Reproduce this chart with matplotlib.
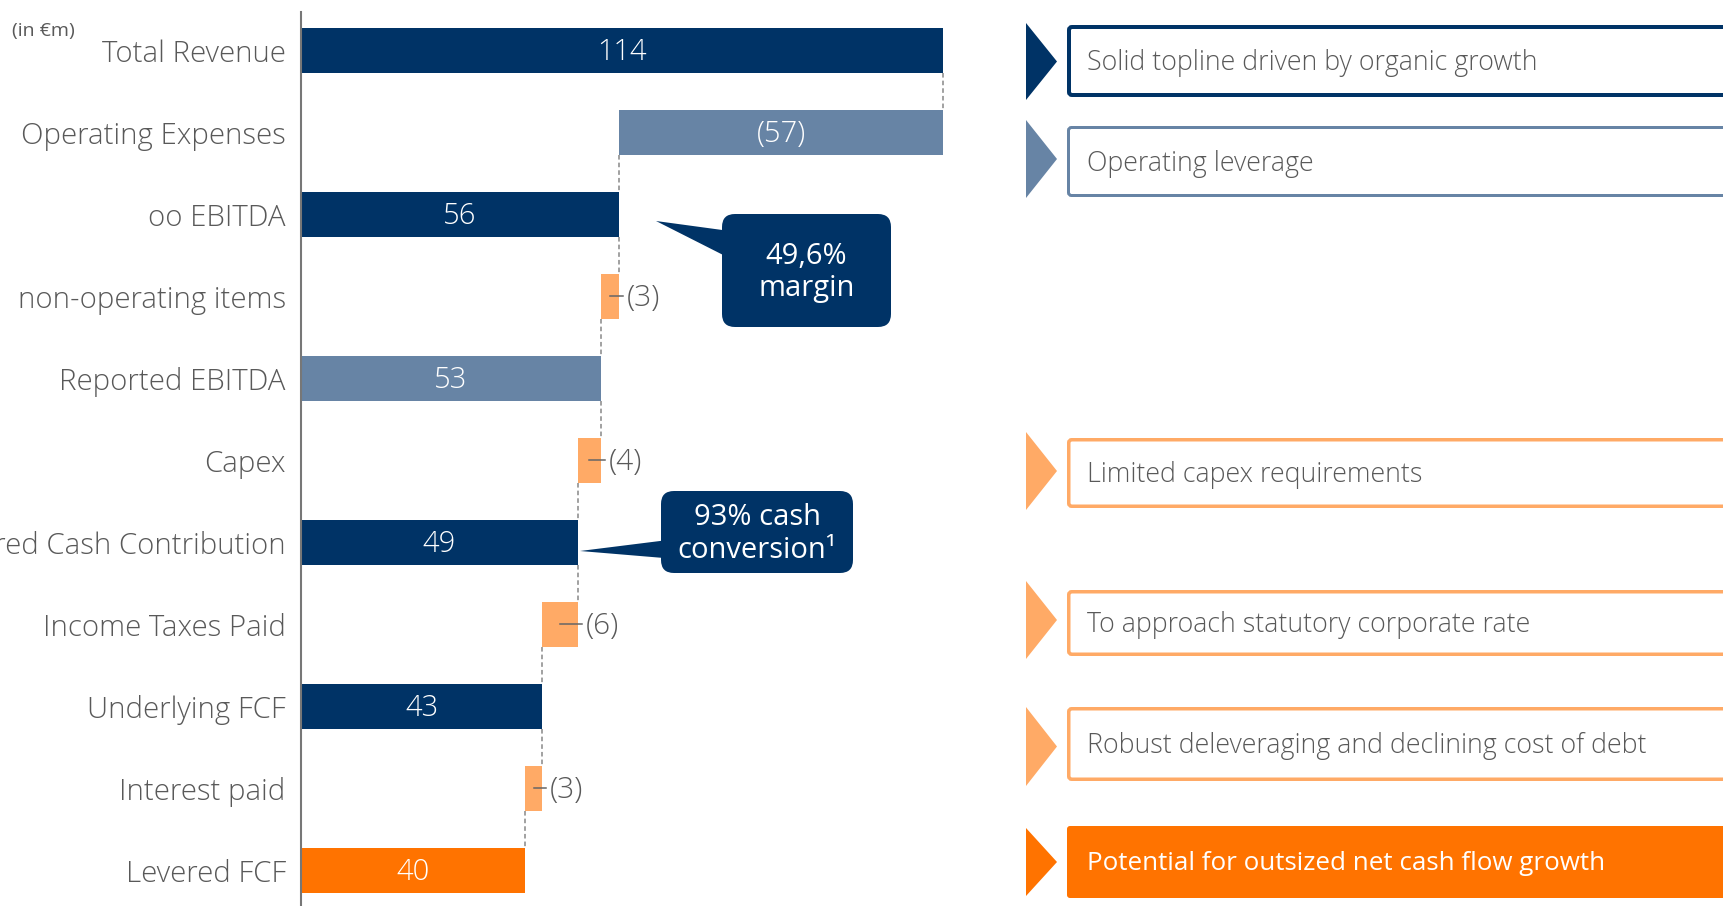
import matplotlib
matplotlib.use("Agg")
import matplotlib.pyplot as plt
from matplotlib.patches import FancyBboxPatch, Polygon

# ---------------- data ----------------
categories = ["Total Revenue", "Operating Expenses", "oo EBITDA", "non-operating items",
              "Reported EBITDA", "Capex", "Levered Cash Contribution", "Income Taxes Paid",
              "Underlying FCF", "Interest paid", "Levered FCF"]
values = [114.0, -57.6, 56.4, -3.2, 53.2, -4.1, 49.1, -6.3, 42.8, -3.0, 39.8]
kinds = ["total", "delta", "total", "delta", "total", "delta", "total", "delta", "total", "delta", "total"]
value_labels = ["114", "(57)", "56", "(3)", "53", "(4)", "49", "(6)", "43", "(3)", "40"]
unit_label = "(in €m)"
callout_texts = ["49,6%\nmargin", "93% cash\nconversion¹"]
notes = ["Solid topline driven by organic growth", "Operating leverage",
         "Limited capex requirements", "To approach statutory corporate rate",
         "Robust deleveraging and declining cost of debt",
         "Potential for outsized net cash flow growth"]

# ---------------- style ----------------
NAVY = "#003366"
STEEL = "#6784A5"
LORANGE = "#FFAA66"
ORANGE = "#FF7300"
GRAY = "#595959"
bar_colors = [NAVY, STEEL, NAVY, LORANGE, STEEL, LORANGE, NAVY, LORANGE, NAVY, LORANGE, ORANGE]
FONT = ["Open Sans", "DejaVu Sans"]
plt.rcParams["font.family"] = FONT

W, H = 1723, 906
fig = plt.figure(figsize=(W / 100, H / 100), dpi=100)
fig.patch.set_facecolor("white")

# main waterfall axes: x=0 at pixel 301, 114 at pixel ~943
ax_left_px, ax_w_px = 301, 699
px_per_unit = (943.3 - 301) / 114.0
top_px = 11.7
ax = fig.add_axes([ax_left_px / W, 0, ax_w_px / W, (H - top_px) / H])
row0, row_step = 50.3, 82.0
ax.set_xlim(0, ax_w_px / px_per_unit)
ax.set_ylim((H - row0) / row_step, (top_px - row0) / row_step)
dy = 2 / row_step  # small downward text offset

bar_h = 0.543
level = 0.0
lefts, widths, levels = [], [], []
for v, k in zip(values, kinds):
    if k == "total":
        lefts.append(0.0)
        widths.append(v)
        level = v
    else:
        lefts.append(level + v)
        widths.append(-v)
        level = level + v
    levels.append(level)

ys = list(range(len(categories)))
ax.barh(ys, widths, left=lefts, height=bar_h, color=bar_colors, zorder=2)

# connectors
for i in range(len(categories) - 1):
    ax.plot([levels[i], levels[i]], [i + bar_h / 2, i + 1 - bar_h / 2],
            color="#888888", lw=1.1, ls=(0, (3, 2)), zorder=1)

# value labels
for i, (v, k, lab) in enumerate(zip(values, kinds, value_labels)):
    l, w = lefts[i], widths[i]
    if k == "total" or abs(v) > 10:
        ax.text(l + w / 2, i + dy, lab, ha="center", va="center", color="white",
                fontsize=21, fontweight="light", zorder=3)
    else:
        right = l + w
        ax.plot([l + w / 2, right + 4 / px_per_unit], [i, i], color="#666666", lw=1.1, zorder=3)
        ax.text(right + 8 / px_per_unit, i + dy, lab, ha="left", va="center", color=GRAY,
                fontsize=21.5, fontweight="light", zorder=3)

ax.set_yticks(ys)
ax.set_yticklabels(categories, fontsize=21.2, color=GRAY, fontweight="light")
ax.tick_params(axis="y", length=0, pad=11)
ax.set_xticks([])
for s in ["top", "right", "bottom"]:
    ax.spines[s].set_visible(False)
ax.spines["left"].set_color("#777777")
ax.spines["left"].set_linewidth(1.5)
ax.patch.set_alpha(0)

# overlay axes in pixel coordinates
ov = fig.add_axes([0, 0, 1, 1])
ov.set_xlim(0, W)
ov.set_ylim(H, 0)
ov.axis("off")
ov.patch.set_alpha(0)

ov.text(12, 31, unit_label, fontsize=14, color=GRAY, ha="left", va="center")

# callouts
callouts = [
    dict(box=(722, 214, 891, 327), tip=(656, 221), base=(232, 262), text=callout_texts[0]),
    dict(box=(661, 491, 853, 573), tip=(580, 551), base=(539, 559), text=callout_texts[1]),
]
for c in callouts:
    x0, y0, x1, y1 = c["box"]
    ov.add_patch(FancyBboxPatch((x0, y0), x1 - x0, y1 - y0,
                                boxstyle="round,pad=0,rounding_size=13",
                                fc=NAVY, ec="none", zorder=4))
    ov.add_patch(Polygon([c["tip"], (x0 + 15, c["base"][0]), (x0 + 15, c["base"][1])],
                         closed=True, fc=NAVY, ec="none", zorder=4))
    ov.text((x0 + x1) / 2, (y0 + y1) / 2 + 2, c["text"], ha="center", va="center",
            color="white", fontsize=21, linespacing=1.17, zorder=5)

# right panel
box_y = [(25, 97), (126, 197), (438, 508), (590, 656), (707, 781), (826, 898)]
tri_y = [(23, 100), (120, 198), (432, 510), (581, 659), (707, 786), (828, 896)]
note_colors = [NAVY, STEEL, LORANGE, LORANGE, LORANGE, ORANGE]
note_filled = [False, False, False, False, False, True]
edge_px = [4, 3, 3.5, 3.5, 3.5, 0]
for note, (by0, by1), (ty0, ty1), col, filled, ep in zip(notes, box_y, tri_y, note_colors,
                                                         note_filled, edge_px):
    ov.add_patch(Polygon([(1026, ty0), (1057, (ty0 + ty1) / 2), (1026, ty1)], closed=True,
                         fc=col, ec="none", zorder=2))
    ov.add_patch(FancyBboxPatch((1067 + ep / 2, by0 + ep / 2), 700, (by1 - by0) - ep,
                                boxstyle="round,pad=0,rounding_size=3",
                                fc=col if filled else "white", ec=col,
                                lw=ep * 0.72 if ep else 0, zorder=2))
    ov.text(1087, (by0 + by1) / 2 + 2, note, ha="left", va="center",
            color="white" if filled else GRAY, fontsize=18.7 if filled else 19.3,
            fontweight="normal" if filled else "light", zorder=3)

fig.savefig("out.png", dpi=100, facecolor="white")
